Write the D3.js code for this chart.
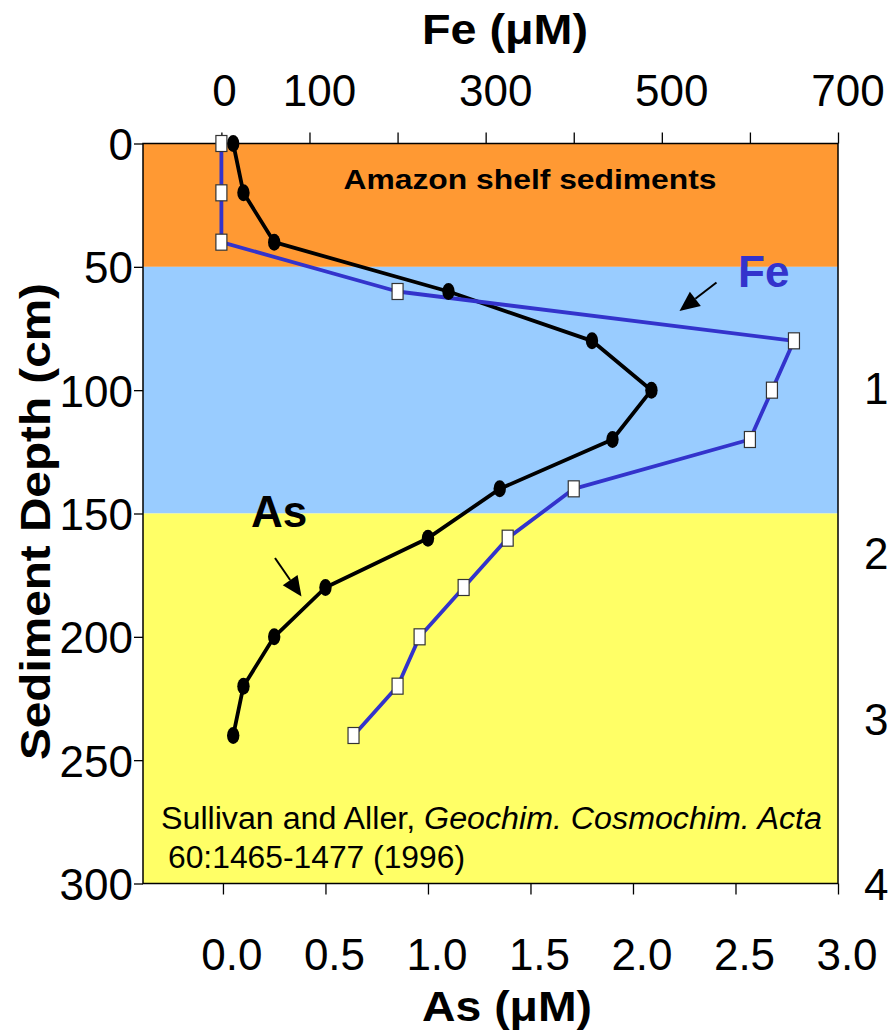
<!DOCTYPE html>
<html>
<head>
<meta charset="utf-8">
<script src="https://cdn.jsdelivr.net/npm/d3@7"></script>
<style>
  html, body { margin: 0; padding: 0; background: #fff; }
  svg { display: block; }
  text { font-family: "Liberation Sans", Arial, sans-serif; }
</style>
</head>
<body>
<script>
// ---------------- data ----------------
const depths   = [0, 20, 40, 60, 80, 100, 120, 140, 160, 180, 200, 220, 240];
const asValues = [0.05, 0.10, 0.25, 1.10, 1.80, 2.09, 1.90, 1.35, 1.00, 0.50, 0.25, 0.10, 0.05];
const feValues = [0, 0, 0, 200, 650, 625, 600, 400, 325, 275, 225, 200, 150];

const depthTicks   = [0, 50, 100, 150, 200, 250, 300];
const feTicks      = [0, 100, 200, 300, 400, 500, 600, 700];
const feTickLabels = [0, 100, 300, 500, 700];
const asTicks      = [0, 0.5, 1.0, 1.5, 2.0, 2.5, 3.0];
const rightValues  = [100, 200, 300, 400];
const rightLabels  = ["1", "2", "3", "4"];

const zoneTops    = [0, 50, 150];
const zoneBottoms = [50, 150, 300];
const zoneColors  = ["#FF9933", "#99CCFF", "#FFFF66"];

const titleFe = "Fe (\u03BCM)";
const titleAs = "As (\u03BCM)";
const titleDepth = "Sediment Depth (cm)";
const zoneLabel = "Amazon shelf sediments";

// ---------------- layout ----------------
const W = 889, H = 1031;
const L = 143, R = 838, T = 143.5, B = 883.5;

const svg = d3.select("body").append("svg").attr("width", W).attr("height", H);

const y  = d3.scaleLinear().domain([0, 300]).range([T, B]);
const xf = d3.scaleLinear().domain([-89, 700]).range([L, R]);
const xa = d3.scaleLinear().domain([-0.39, 3]).range([L, R]);
const yr = d3.scaleLinear().domain([100, 400]).range([388, 884]);

// zones
svg.append("g").selectAll("rect").data(zoneTops).join("rect")
  .attr("x", L).attr("width", R - L)
  .attr("y", d => y(d))
  .attr("height", (d, i) => y(zoneBottoms[i]) - y(d))
  .attr("fill", (d, i) => zoneColors[i]);

// border
svg.append("rect").attr("x", L).attr("y", T).attr("width", R - L).attr("height", B - T)
  .attr("fill", "none").attr("stroke", "#000").attr("stroke-width", 1.5);

// axes (ticks)
const styleAxis = g => {
  g.select(".domain").remove();
  g.selectAll(".tick line").attr("stroke", "#000").attr("stroke-width", 1.3);
};
svg.append("g").attr("transform", `translate(0,${T})`)
  .call(d3.axisTop(xf).tickValues(feTicks).tickSize(11).tickSizeOuter(0).tickFormat(""))
  .call(styleAxis);
svg.append("g").attr("transform", `translate(0,${B})`)
  .call(d3.axisBottom(xa).tickValues(asTicks).tickSize(11).tickSizeOuter(0).tickFormat(""))
  .call(styleAxis);
const yAxis = svg.append("g").attr("transform", `translate(${L},0)`)
  .call(d3.axisLeft(y).tickValues(depthTicks).tickSize(9).tickPadding(1).tickSizeOuter(0))
  .call(styleAxis);
yAxis.selectAll(".tick text")
  .attr("font-family", "Liberation Sans, Arial, sans-serif")
  .attr("font-size", 44).attr("fill", "#000").attr("dy", "0.36em");

// top tick labels
svg.append("g").selectAll("text").data(feTickLabels).join("text")
  .attr("x", d => xf(d) + (d === 0 ? 3 : 10))
  .attr("y", 106)
  .attr("text-anchor", "middle").attr("font-size", 44).attr("fill", "#000")
  .text(d => d);

// bottom tick labels
svg.append("g").selectAll("text").data(asTicks).join("text")
  .attr("x", d => xa(d) + 9)
  .attr("y", 970)
  .attr("text-anchor", "middle").attr("font-size", 44).attr("fill", "#000")
  .text(d => d3.format(".1f")(d));

// partially visible right-hand labels (only the first digit fits in the frame)
svg.append("g").selectAll("text").data(rightValues).join("text")
  .attr("x", 864)
  .attr("y", d => yr(d) + 16)
  .attr("text-anchor", "start").attr("font-size", 44).attr("fill", "#000")
  .text((d, i) => rightLabels[i]);

// titles
svg.append("text").attr("x", 505).attr("y", 44).attr("text-anchor", "middle")
  .attr("font-size", 43).attr("font-weight", "bold").attr("fill", "#000")
  .attr("textLength", 166).attr("lengthAdjust", "spacingAndGlyphs").text(titleFe);
svg.append("text").attr("x", 507).attr("y", 1021).attr("text-anchor", "middle")
  .attr("font-size", 43).attr("font-weight", "bold").attr("fill", "#000")
  .attr("textLength", 170).attr("lengthAdjust", "spacingAndGlyphs").text(titleAs);
svg.append("text").attr("transform", `translate(50,${(283 + 760) / 2}) rotate(-90)`)
  .attr("text-anchor", "middle")
  .attr("font-size", 42).attr("font-weight", "bold").attr("fill", "#000")
  .attr("textLength", 477).attr("lengthAdjust", "spacingAndGlyphs")
  .text(titleDepth);

// zone label
svg.append("text").attr("x", 530).attr("y", 189).attr("text-anchor", "middle")
  .attr("font-size", 27).attr("font-weight", "bold").attr("fill", "#000")
  .attr("textLength", 373).attr("lengthAdjust", "spacingAndGlyphs")
  .text(zoneLabel);

// citation
const cit = svg.append("text").attr("font-size", 31).attr("fill", "#000")
  .attr("x", 161).attr("y", 829)
  .attr("textLength", 661).attr("lengthAdjust", "spacingAndGlyphs");
cit.append("tspan").text("Sullivan and Aller, ");
cit.append("tspan").attr("font-style", "italic").text("Geochim. Cosmochim. Acta");
svg.append("text").attr("x", 168).attr("y", 868).attr("font-size", 31).attr("fill", "#000")
  .attr("textLength", 297).attr("lengthAdjust", "spacingAndGlyphs")
  .text("60:1465-1477 (1996)");

// lines
const idx = d3.range(depths.length);
const lineAs = d3.line().x(i => xa(asValues[i])).y(i => y(depths[i]));
const lineFe = d3.line().x(i => xf(feValues[i])).y(i => y(depths[i]));

svg.append("path").attr("d", lineAs(idx)).attr("fill", "none")
  .attr("stroke", "#000").attr("stroke-width", 3.8).attr("stroke-linejoin", "round");
svg.append("path").attr("d", lineFe(idx)).attr("fill", "none")
  .attr("stroke", "#3333CC").attr("stroke-width", 3.8).attr("stroke-linejoin", "round");

// markers
svg.append("g").selectAll("ellipse").data(idx).join("ellipse")
  .attr("cx", i => xa(asValues[i])).attr("cy", i => y(depths[i]))
  .attr("rx", 6.2).attr("ry", 8.5).attr("fill", "#000");
svg.append("g").selectAll("rect").data(idx).join("rect")
  .attr("x", i => xf(feValues[i]) - 5.5).attr("y", i => y(depths[i]) - 8)
  .attr("width", 11).attr("height", 16)
  .attr("fill", "#fff").attr("stroke", "#333").attr("stroke-width", 1.2);

// series labels and arrows
svg.append("text").attr("x", 738).attr("y", 287).attr("font-size", 44)
  .attr("font-weight", "bold").attr("fill", "#3333CC").text("Fe");
svg.append("text").attr("x", 251).attr("y", 527).attr("font-size", 44)
  .attr("font-weight", "bold").attr("fill", "#000").text("As");

function arrow(x1, y1, x2, y2) {
  const ang = Math.atan2(y2 - y1, x2 - x1);
  const hl = 20, hw = 9;
  const bx = x2 - hl * Math.cos(ang), by = y2 - hl * Math.sin(ang);
  svg.append("line").attr("x1", x1).attr("y1", y1).attr("x2", bx).attr("y2", by)
    .attr("stroke", "#000").attr("stroke-width", 2);
  const px = -Math.sin(ang) * hw, py = Math.cos(ang) * hw;
  svg.append("path")
    .attr("d", `M${x2},${y2}L${bx + px},${by + py}L${bx - px},${by - py}Z`)
    .attr("fill", "#000");
}
arrow(716.5, 282.5, 679.5, 311);
arrow(275, 558, 301.5, 596.5);
</script>
</body>
</html>
